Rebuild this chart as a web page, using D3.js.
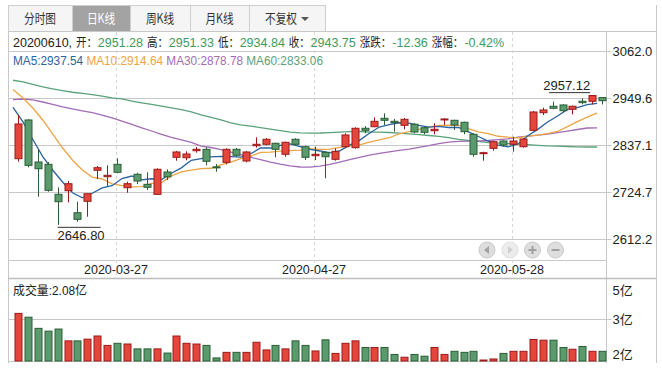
<!DOCTYPE html>
<html>
<head>
<meta charset="utf-8">
<script src="https://cdn.jsdelivr.net/npm/d3@7"></script>
<style>
  body { margin: 0; background: #fff; }
  text { font-family: "Liberation Sans", "Noto Sans CJK SC", sans-serif; }
</style>
</head>
<body>
<div id="chart"></div>
<script>
// 交易日
var dates = ["2020-03-13","2020-03-16","2020-03-17","2020-03-18","2020-03-19","2020-03-20","2020-03-23","2020-03-24","2020-03-25","2020-03-26",
  "2020-03-27","2020-03-30","2020-03-31","2020-04-01","2020-04-02","2020-04-03","2020-04-07","2020-04-08","2020-04-09","2020-04-10",
  "2020-04-13","2020-04-14","2020-04-15","2020-04-16","2020-04-17","2020-04-20","2020-04-21","2020-04-22","2020-04-23","2020-04-24",
  "2020-04-27","2020-04-28","2020-04-29","2020-04-30","2020-05-06","2020-05-07","2020-05-08","2020-05-11","2020-05-12","2020-05-13",
  "2020-05-14","2020-05-15","2020-05-18","2020-05-19","2020-05-20","2020-05-21","2020-05-22","2020-05-25","2020-05-26","2020-05-27",
  "2020-05-28","2020-05-29","2020-06-01","2020-06-02","2020-06-03","2020-06-04","2020-06-05","2020-06-08","2020-06-09","2020-06-10"];

var opens = [2805.0,2897.7,2797.1,2791.6,2719.8,2728.4,2675.8,2703.1,2777.3,2761.9,
  2791.6,2735.6,2767.7,2743.7,2719.8,2773.2,2808.4,2807.4,2824.2,2827.5,
  2785.5,2796.4,2827.5,2799.5,2836.1,2839.5,2841.9,2815.6,2851.5,2833.7,
  2812.2,2820.3,2803.6,2833.7,2831.4,2877.8,2881.6,2901.7,2894.5,2885.0,
  2887.4,2879.2,2872.0,2897.7,2896.9,2892.2,2863.4,2818.0,2829.9,2847.4,
  2839.5,2833.7,2873.0,2915.1,2930.5,2933.6,2923.3,2942.4,2942.4,2951.28];
var highs = [2909.6,2899.5,2827.5,2797.0,2736.6,2751.6,2702.1,2722.0,2787.6,2789.2,
  2806.0,2750.0,2771.5,2772.5,2782.0,2779.7,2823.5,2822.7,2833.0,2832.3,
  2792.3,2829.9,2830.6,2823.5,2856.2,2854.6,2843.3,2845.7,2853.9,2836.1,
  2833.7,2822.7,2829.9,2865.8,2880.2,2883.3,2904.1,2913.7,2900.1,2902.4,
  2889.8,2880.9,2889.8,2901.7,2898.4,2893.6,2865.8,2821.8,2848.1,2849.0,
  2857.7,2853.9,2919.2,2927.1,2941.5,2935.2,2931.9,2949.6,2957.12,2951.33];
var lows = [2797.8,2784.4,2714.1,2726.0,2646.8,2700.7,2654.2,2666.2,2756.4,2739.7,
  2770.0,2723.6,2744.5,2730.1,2718.1,2754.0,2800.2,2801.2,2819.4,2789.2,
  2773.9,2791.6,2809.8,2796.4,2831.4,2837.1,2808.4,2809.8,2837.1,2801.9,
  2801.9,2758.1,2800.2,2831.4,2829.0,2865.8,2880.2,2885.7,2869.7,2875.4,
  2865.8,2863.4,2863.4,2885.7,2873.7,2863.4,2809.8,2800.2,2824.2,2834.0,
  2821.8,2831.4,2871.3,2909.6,2923.3,2917.5,2911.3,2935.2,2935.2,2934.84];
var closes = [2888.1,2789.2,2781.1,2729.4,2702.1,2745.2,2660.0,2721.2,2783.5,2765.3,
  2772.5,2745.2,2751.6,2736.6,2779.7,2761.9,2821.1,2816.3,2827.5,2798.8,
  2783.4,2827.5,2813.2,2821.1,2839.5,2851.5,2827.5,2844.3,2839.5,2808.4,
  2815.6,2809.8,2822.7,2861.8,2877.8,2873.0,2894.5,2896.9,2891.2,2899.3,
  2868.9,2868.2,2875.4,2900.1,2885.7,2869.7,2815.6,2819.4,2845.7,2837.8,
  2847.4,2852.2,2916.8,2921.6,2925.7,2919.9,2930.5,2939.1,2956.1,2943.75];

// 成交量（亿）
var volumes = [3.17,3.06,2.74,2.66,2.72,2.38,2.38,2.43,2.52,2.25,
  2.31,2.29,2.15,2.15,2.15,2.03,2.52,2.31,2.29,2.25,
  1.89,2.05,2.05,2.05,2.34,2.12,2.25,2.15,2.38,2.25,
  2.09,2.41,2.02,2.31,2.38,2.19,2.19,2.19,1.99,1.91,
  1.99,1.94,2.19,1.99,2.08,2.05,2.08,1.83,1.86,2.02,
  2.08,2.08,2.42,2.40,2.40,2.19,2.14,2.22,2.08,2.08];

// 均线
var ma5 = [2928.0,2893.0,2851.0,2810.0,2778.0,2749.4,2723.6,2711.6,2722.4,2735.0,
  2740.5,2757.5,2763.6,2754.2,2757.1,2755.0,2770.2,2783.1,2801.3,2805.1,
  2809.4,2810.7,2810.1,2808.8,2816.9,2830.6,2830.6,2836.8,2840.5,2834.2,
  2827.1,2823.5,2819.2,2823.7,2837.5,2849.0,2866.0,2880.8,2886.7,2891.0,
  2890.2,2884.9,2880.6,2882.4,2879.7,2879.8,2869.3,2858.1,2847.2,2837.6,
  2833.2,2840.5,2860.0,2875.2,2892.7,2907.2,2922.9,2927.4,2934.3,2937.54];
var ma10 = [2970.7,2950.3,2926.4,2897.7,2864.2,2830.6,2801.9,2778.0,2761.2,2756.5,
  2745.0,2740.6,2737.6,2738.3,2746.1,2747.8,2763.9,2773.4,2777.8,2781.1,
  2782.2,2790.4,2796.6,2805.1,2811.0,2820.0,2820.6,2823.4,2824.6,2825.6,
  2828.8,2827.0,2828.0,2832.1,2835.9,2838.0,2844.7,2850.0,2855.2,2864.3,
  2869.6,2875.4,2880.7,2884.5,2885.3,2885.0,2877.1,2869.4,2864.8,2858.7,
  2856.5,2854.9,2859.0,2861.2,2865.2,2870.2,2881.7,2893.7,2904.7,2914.64];
var ma30 = [2946.5,2947.9,2946.0,2940.7,2935.2,2929.3,2924.0,2919.7,2915.1,2909.4,
  2902.7,2894.8,2886.9,2879.0,2871.3,2863.2,2856.0,2849.8,2844.0,2834.9,
  2831.8,2826.8,2820.6,2814.6,2808.6,2802.6,2796.6,2791.8,2787.8,2785.2,
  2784.7,2787.1,2791.6,2796.9,2802.9,2808.4,2813.4,2817.7,2821.5,2825.1,
  2828.2,2832.1,2836.1,2841.2,2844.8,2846.7,2846.9,2847.4,2848.6,2850.7,
  2852.7,2856.5,2858.9,2861.3,2863.7,2867.3,2871.1,2874.9,2878.5,2878.78];
var ma60 = [2992.7,2988.9,2982.6,2977.1,2972.3,2968.0,2964.0,2961.1,2958.2,2954.9,
  2950.8,2948.2,2942.7,2938.8,2934.8,2930.9,2926.9,2922.3,2916.8,2910.1,
  2904.1,2897.7,2891.0,2886.2,2883.1,2879.5,2875.6,2872.0,2868.7,2866.8,
  2866.1,2866.5,2867.5,2868.7,2869.7,2870.1,2868.9,2868.5,2867.7,2866.3,
  2864.6,2862.5,2860.6,2858.6,2855.5,2851.5,2848.6,2846.7,2843.3,2842.1,
  2841.2,2840.0,2838.5,2837.1,2835.7,2834.9,2834.2,2833.5,2833.0,2833.06];

var priceTicks = [3062.0, 2949.6, 2837.1, 2724.7, 2612.2];
var dateTicks = ["2020-03-27", "2020-04-27", "2020-05-28"];
var volTicks = [3, 2];
var tabs = ["分时图", "日K线", "周K线", "月K线", "不复权"];

var W = 662, H = 374;
var left = 8, right = 606.5, outerRight = 656;
var red = "#e5463b", redDark = "#9c1a1a", green = "#5a9a6c", greenDark = "#2a5e36";

var svg = d3.select("#chart").append("svg")
  .attr("width", W).attr("height", H);

// 把文字压窄一点，原图的中文字比较瘦
function squeeze(sel, k) {
  sel.each(function() {
    var w = this.getComputedTextLength();
    d3.select(this).attr("textLength", w * k).attr("lengthAdjust", "spacingAndGlyphs");
  });
}
function fitTo(sel, w) {
  sel.attr("textLength", w).attr("lengthAdjust", "spacingAndGlyphs");
}

// 坐标
var x = d3.scalePoint().domain(dates).range([18, 602.1]);
var y = d3.scaleLinear().domain([2612.2, 3062.0]).range([239.3, 51.3]);
var yv = d3.scaleLinear().domain([2, 3]).range([354.1, 319.3]);
var volBase = 361;
var maShift = -x.step() / 2;

// 标签页
var tabX = [8, 72, 130, 190, 249, 325];
var tabG = svg.append("g");
tabs.forEach(function(t, i) {
  var active = (i === 1);
  tabG.append("rect")
    .attr("x", tabX[i] + 0.5).attr("y", 5.5)
    .attr("width", tabX[i + 1] - tabX[i]).attr("height", 26)
    .attr("fill", active ? "#a3a3a3" : "#f5f5f5")
    .attr("stroke", "#cfcfcf");
  var tt = tabG.append("text")
    .attr("x", (tabX[i] + tabX[i + 1]) / 2 - (i === 4 ? 6 : 0)).attr("y", 23)
    .attr("text-anchor", "middle")
    .style("font-family", "'Noto Sans CJK SC', sans-serif")
    .style("font-size", "13px")
    .attr("fill", active ? "#fff" : "#333")
    .text(t);
  squeeze(tt, 0.82);
});
tabG.append("path")
  .attr("d", "M301,17 L309,17 L305,21 Z")
  .attr("fill", "#555");

// 外框
svg.append("line").attr("x1", left + 0.5).attr("x2", left + 0.5).attr("y1", 31.5).attr("y2", 363).attr("stroke", "#c8c8c8");
svg.append("line").attr("x1", outerRight + 0.5).attr("x2", outerRight + 0.5).attr("y1", 5).attr("y2", 363).attr("stroke", "#c8c8c8");
svg.append("line").attr("x1", left).attr("x2", outerRight).attr("y1", 31.5).attr("y2", 31.5).attr("stroke", "#c8c8c8");
svg.append("line").attr("x1", right).attr("x2", right).attr("y1", 31.5).attr("y2", 363).attr("stroke", "#c8c8c8");

// 价格网格
svg.append("g").selectAll("line").data(priceTicks).join("line")
  .attr("x1", left).attr("x2", right + 5)
  .attr("y1", function(d) { return Math.round(y(d)) + 0.5; })
  .attr("y2", function(d) { return Math.round(y(d)) + 0.5; })
  .attr("stroke", "#c8c8c8");
svg.append("g").selectAll("text").data(priceTicks).join("text")
  .attr("x", right + 6).attr("y", function(d) { return y(d) + 5; })
  .style("font-size", "13px").attr("fill", "#222")
  .text(function(d) { return d.toFixed(1); });

// 日期行
svg.append("line").attr("x1", left).attr("x2", right).attr("y1", 260.5).attr("y2", 260.5).attr("stroke", "#c8c8c8");
svg.append("line").attr("x1", left).attr("x2", outerRight).attr("y1", 278.5).attr("y2", 278.5).attr("stroke", "#bdbdbd").attr("stroke-width", 1.5);
svg.append("g").selectAll("line").data(dateTicks).join("line")
  .attr("x1", function(d) { return Math.round(x(d)) - 0.5; })
  .attr("x2", function(d) { return Math.round(x(d)) - 0.5; })
  .attr("y1", 32).attr("y2", 278)
  .attr("stroke", "#d6d6d6").attr("stroke-dasharray", "3,3");
svg.append("g").selectAll("text").data(dateTicks).join("text")
  .attr("x", function(d) { return x(d) - 1; }).attr("y", 274)
  .attr("text-anchor", "middle")
  .style("font-size", "12.5px").attr("fill", "#222")
  .text(function(d) { return d; });

// 均线
var maList = [
  { name: "MA5", data: ma5, color: "#2b62a0" },
  { name: "MA10", data: ma10, color: "#eca544" },
  { name: "MA30", data: ma30, color: "#a26cb8" },
  { name: "MA60", data: ma60, color: "#5aa27a" }
];
var line = d3.line()
  .x(function(d, i) { return x(dates[i]) + maShift; })
  .y(function(d) { return y(d); });
maList.slice().reverse().forEach(function(m) {
  svg.append("path")
    .attr("d", line(m.data))
    .attr("fill", "none")
    .attr("stroke", m.color)
    .attr("stroke-width", 1.3);
});

// K线
var kG = svg.append("g");
dates.forEach(function(d, i) {
  var up = closes[i] >= opens[i];
  var cx = Math.round(x(d)) + 0.5;
  var top = y(Math.max(opens[i], closes[i]));
  var bot = y(Math.min(opens[i], closes[i]));
  kG.append("line")
    .attr("x1", cx).attr("x2", cx)
    .attr("y1", y(highs[i])).attr("y2", y(lows[i]))
    .attr("stroke", up ? redDark : greenDark).attr("stroke-width", 1);
  kG.append("rect")
    .attr("x", cx - 3.5).attr("y", top)
    .attr("width", 7).attr("height", Math.max(bot - top, 1))
    .attr("fill", up ? red : green)
    .attr("stroke", up ? redDark : greenDark).attr("stroke-width", 1);
});

// 最高最低标注
var iLow = d3.minIndex(lows), iHigh = d3.maxIndex(highs);
var lowY = y(lows[iLow]) + 2;
svg.append("line")
  .attr("x1", x(dates[iLow])).attr("x2", x(dates[iLow]) + 43)
  .attr("y1", lowY + 0.5).attr("y2", lowY + 0.5).attr("stroke", "#333");
svg.append("text")
  .attr("x", x(dates[iLow])).attr("y", lowY + 13)
  .style("font-size", "13px").attr("fill", "#222")
  .text(lows[iLow].toFixed(2));
var highY = y(highs[iHigh]) - 3;
svg.append("line")
  .attr("x1", x(dates[iHigh]) - 43).attr("x2", x(dates[iHigh]) - 2)
  .attr("y1", highY + 0.5).attr("y2", highY + 0.5).attr("stroke", "#333");
svg.append("text")
  .attr("x", x(dates[iHigh]) - 2).attr("y", highY - 2)
  .attr("text-anchor", "end")
  .style("font-size", "13px").attr("fill", "#222")
  .text(highs[iHigh].toFixed(2));

// 标题行：数字后面留一个空格宽的间隙，中文部分横向压窄
var last = dates.length - 1;
var headParts = [
  [dates[last].replace(/-/g, "") + ",", "#222", 0], ["开：", "#222", 1], [opens[last].toFixed(2), "#3f9a5e", 0],
  ["高：", "#222", 1], [highs[last].toFixed(2), "#3f9a5e", 0],
  ["低：", "#222", 1], [lows[last].toFixed(2), "#3f9a5e", 0],
  ["收：", "#222", 1], [closes[last].toFixed(2), "#3f9a5e", 0],
  ["涨跌：", "#222", 1], ["-12.36", "#3f9a5e", 0],
  ["涨幅：", "#222", 1], ["-0.42%", "#3f9a5e", 0]
];
var gap = 4;
var head = svg.append("g");
var spans = [], numW = 0, cjkW = 0;
headParts.forEach(function(p, i) {
  var ts = head.append("text").attr("x", 0).attr("y", 0).style("font-size", "12.5px")
    .attr("fill", p[1]).text(p[0]);
  var w = ts.node().getComputedTextLength();
  var g = (!p[2] && i < headParts.length - 1) ? gap : 0;
  spans.push({ node: ts, w: w, cjk: p[2], g: g });
  if (p[2]) cjkW += w; else numW += w + g;
});
var k = Math.min(1, (491 - numW) / cjkW);
var cursor = 13;
spans.forEach(function(s) {
  var sx = s.cjk ? k * 0.97 : 1;
  s.node.attr("transform", "translate(" + cursor + ",47) scale(" + sx + ",1)");
  cursor += (s.cjk ? s.w * k : s.w) + s.g;
});

// 均线图例
var leg = svg.append("text").attr("x", 13).attr("y", 65).style("font-size", "12px");
maList.forEach(function(m, i) {
  leg.append("tspan").attr("fill", m.color)
    .text((i ? " " : "") + m.name + ":" + m.data[last].toFixed(2));
});
fitTo(leg, 310);

// 导航按钮
var btnX = [487, 510, 532.5, 555.5];
btnX.forEach(function(bx, i) {
  var g = svg.append("g").attr("transform", "translate(" + bx + ",250)");
  g.append("circle").attr("r", 8).attr("fill", i === 1 ? "#ececec" : "#dedede")
    .attr("stroke", i === 1 ? "#e0e0e0" : "#cacaca");
  var ic = i === 1 ? "#d0d0d0" : "#a0a0a0";
  if (i === 0) g.append("path").attr("d", "M-3,0 L2,-4 L2,4 Z").attr("fill", ic);
  if (i === 1) g.append("path").attr("d", "M3,0 L-2,-4 L-2,4 Z").attr("fill", ic);
  if (i === 2) g.append("path").attr("d", "M-4,0 H4 M0,-4 V4").attr("stroke", ic).attr("stroke-width", 2);
  if (i === 3) g.append("path").attr("d", "M-4,0 H4").attr("stroke", ic).attr("stroke-width", 2);
});

// 成交量
svg.append("line").attr("x1", left).attr("x2", right + 5).attr("y1", Math.round(yv(3)) + 0.5).attr("y2", Math.round(yv(3)) + 0.5).attr("stroke", "#c8c8c8");
svg.append("line").attr("x1", left).attr("x2", right).attr("y1", volBase + 0.5).attr("y2", volBase + 0.5).attr("stroke", "#c8c8c8");
svg.append("g").selectAll("rect").data(volumes).join("rect")
  .attr("x", function(d, i) { return Math.round(x(dates[i])) - 3; })
  .attr("y", function(d) { return yv(d); })
  .attr("width", 7)
  .attr("height", function(d) { return volBase - yv(d); })
  .attr("fill", function(d, i) { return closes[i] >= opens[i] ? red : green; })
  .attr("stroke", function(d, i) { return closes[i] >= opens[i] ? redDark : greenDark; });
svg.append("g").selectAll("text").data(volTicks).join("text")
  .attr("x", right + 6).attr("y", function(d) { return yv(d) + 5; })
  .style("font-size", "13px").attr("fill", "#222")
  .text(function(d) { return d + "亿"; });
svg.append("text").attr("x", right + 6).attr("y", 295)
  .style("font-size", "13px").attr("fill", "#222").text("5亿");
var volLabel = svg.append("text").attr("x", 13).attr("y", 295)
  .style("font-size", "12.5px").attr("fill", "#222")
  .text("成交量:" + volumes[last].toFixed(2) + "亿");
fitTo(volLabel, 74);
</script>
</body>
</html>
